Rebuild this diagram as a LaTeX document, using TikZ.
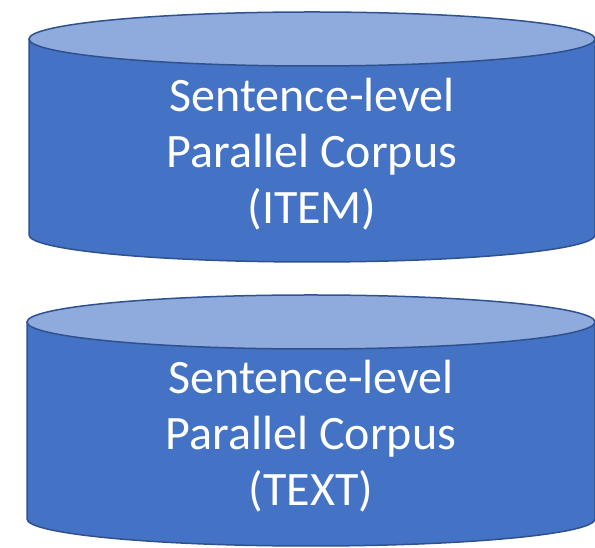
\documentclass[tikz,border=0pt]{standalone}
\usepackage{fontspec}
\setmainfont{Carlito}
\definecolor{sidec}{HTML}{4472C4}
\definecolor{topc}{HTML}{8FAADC}
\definecolor{edgec}{HTML}{2F528F}
\begin{document}
\begin{tikzpicture}[x=1pt,y=1pt,
  side/.style={fill=sidec,draw=edgec,line width=1.5pt,line join=round},
  lid/.style={fill=topc,draw=edgec,line width=1.5pt},
  lbl/.style={text=white,font=\fontsize{48}{56}\selectfont,anchor=base,inner sep=0pt}]
\useasboundingbox (0,0) rectangle (595,548);
% top cylinder
\path[side] (29,509) -- (29,313) arc[start angle=180,end angle=360,x radius=283,y radius=27] -- (595,509) -- cycle;
\path[lid] (312,509) ellipse[x radius=283,y radius=27];
\node[lbl] (a1) at (312,436) {Sentence-level};
\node[lbl] (a2) at (312,380) {Parallel Corpus};
\node[lbl] (a3) at (312,324) {(ITEM)};
% bottom cylinder
\path[side] (27,226) -- (27,29) arc[start angle=180,end angle=360,x radius=284,y radius=27] -- (595,226) -- cycle;
\path[lid] (311,226) ellipse[x radius=284,y radius=27];
\node[lbl] (b1) at (311,154) {Sentence-level};
\node[lbl] (b2) at (311,98) {Parallel Corpus};
\node[lbl] (b3) at (311,42) {(TEXT)};
\end{tikzpicture}
\end{document}
